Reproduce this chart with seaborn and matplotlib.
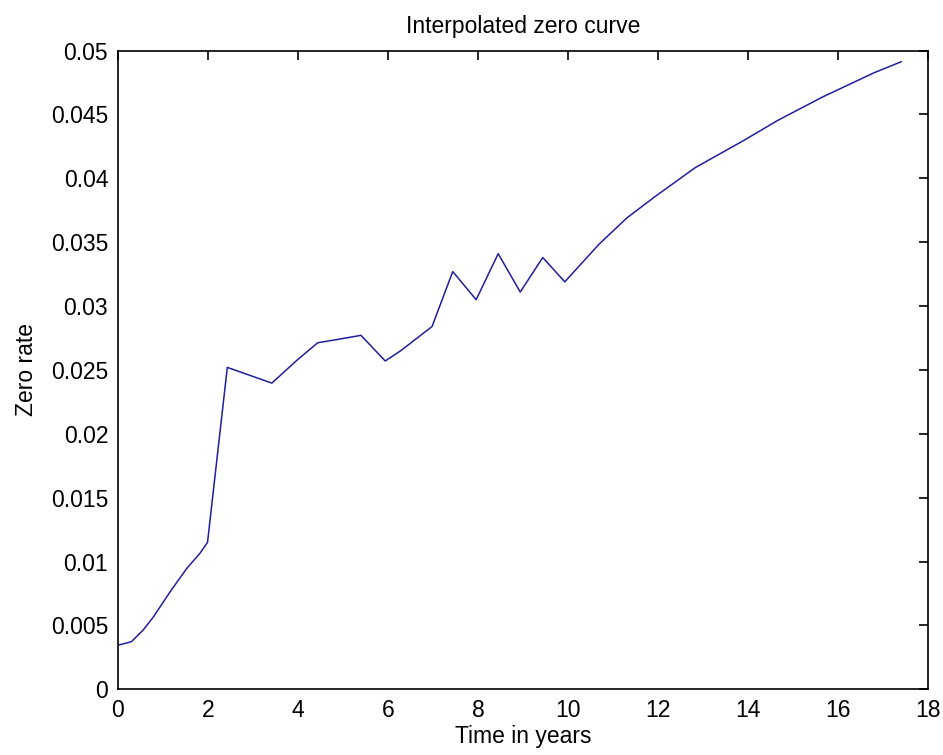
import matplotlib
matplotlib.use("Agg")
import matplotlib.pyplot as plt
import seaborn as sns
import pandas as pd

# zero curve
time_years = [0.0, 0.30, 0.56, 0.79, 1.16, 1.53, 1.82, 1.99, 2.43, 3.42, 3.99, 4.44,
              4.90, 5.40, 5.94, 6.29, 6.98, 7.44, 7.96, 8.45, 8.94, 9.44, 9.93,
              10.69, 11.31, 11.92, 12.83, 13.90, 14.66, 15.66, 16.80, 17.41]
zero_rate = [0.00345, 0.00373, 0.00464, 0.00568, 0.00764, 0.00947, 0.01064, 0.01150,
             0.0252, 0.02397, 0.0258, 0.02713, 0.0274, 0.02771, 0.0257, 0.02652,
             0.0284, 0.0327, 0.0305, 0.0341, 0.0311, 0.0338, 0.0319, 0.03484,
             0.0369, 0.03853, 0.04084, 0.04295, 0.04453, 0.04637, 0.04826, 0.04913]

x_ticks = [0, 2, 4, 6, 8, 10, 12, 14, 16, 18]
y_ticks = [0, 0.005, 0.01, 0.015, 0.02, 0.025, 0.03, 0.035, 0.04, 0.045, 0.05]
y_labels = ['0', '0.005', '0.01', '0.015', '0.02', '0.025', '0.03', '0.035', '0.04', '0.045', '0.05']

sns.set_style("white")
plt.rcParams['font.family'] = ['Liberation Sans', 'DejaVu Sans']
plt.rcParams['text.color'] = 'black'
plt.rcParams['axes.labelcolor'] = 'black'

df = pd.DataFrame({'t': time_years, 'z': zero_rate})

fig = plt.figure(figsize=(9.43, 7.55), dpi=100)
ax = fig.add_axes([0.1251, 0.087, 0.984 - 0.1251, 0.933 - 0.087])

sns.lineplot(data=df, x='t', y='z', ax=ax, color='#1f1f9e', linewidth=1.1,
             estimator=None, sort=False)

ax.set_xlim(0, 18)
ax.set_ylim(0, 0.05)
ax.set_xticks(x_ticks)
ax.set_xticklabels([str(v) for v in x_ticks])
ax.set_yticks(y_ticks)
ax.set_yticklabels(y_labels)

for side in ax.spines.values():
    side.set_color('black')
    side.set_linewidth(1.2)

ax.tick_params(direction='in', length=6.5, width=1.2, colors='black',
               top=True, right=True, labelsize=16.5, pad=7)

ax.set_title('Interpolated zero curve', fontsize=16.5, pad=13, color='black')
ax.set_xlabel('Time in years', fontsize=16.5, labelpad=2, color='black')
ax.set_ylabel('Zero rate', fontsize=16.5, labelpad=9, color='black')

fig.savefig('out.png', dpi=100, facecolor='white')
